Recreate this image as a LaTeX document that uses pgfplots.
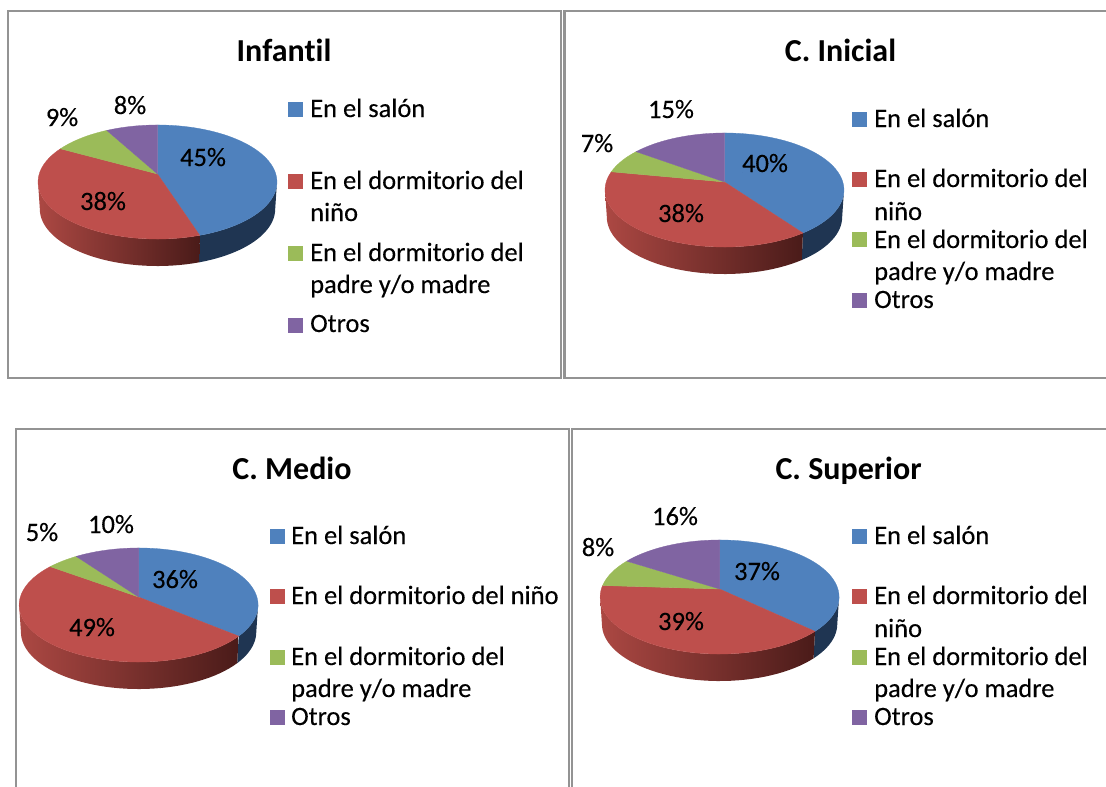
\documentclass[border=0pt]{standalone}
\usepackage{fontspec}
\usepackage{pgfplots}
\usepackage{pgfplotstable}
\pgfplotsset{compat=1.18}
\setmainfont{Carlito}[Ligatures=NoCommon,FakeBold=0.25,BoldFeatures={FakeBold=0}]

\definecolor{cblue}{HTML}{4F81BD}
\definecolor{cred}{HTML}{BE4F4C}
\definecolor{cgreen}{HTML}{9BBB59}
\definecolor{cpurple}{HTML}{8064A2}
\definecolor{wallblue}{HTML}{1F3552}
\definecolor{wallredL}{HTML}{AC4843}
\definecolor{wallredR}{HTML}{4A1B19}
\definecolor{framegray}{HTML}{939393}

\tikzset{
  txt/.style={inner sep=0pt,font=\fontsize{26.5}{26.5}\selectfont},
  ttl/.style={inner sep=0pt,anchor=base,font=\bfseries\fontsize{32}{32}\selectfont},
}

% share (%) of each slice, and where its label sits (pixels)
\pgfplotstableread{
cat value lx ly
salon 45 203 166
nino 38 103 210
padres 9 62 126
otros 8 130 114
}\infantil
\pgfplotstableread{
cat value lx ly
salon 40 765 172
nino 38 681 222
padres 7 597 152
otros 15 671 118
}\inicial
\pgfplotstableread{
cat value lx ly
salon 36 175 588
nino 49 92 636
padres 5 42 541
otros 10 111 533
}\medio
\pgfplotstableread{
cat value lx ly
salon 37 757 580
nino 39 681 630
padres 8 598 556
otros 16 675 525
}\superior

% perspective of the pie: half width, half depth, strength
\def\pieA{118.3}
\def\pieB{55.9}
\def\kk{0.1403}
\def\wall{27}

\newcommand\addarc[4]{% from angle, to angle, x scale, y shift
  \pgfmathtruncatemacro\nn{max(2,ceil(abs(#2-#1)/3))}
  \foreach \i in {0,...,\nn}{
    \pgfmathsetmacro\tht{#1+(#2-#1)*\i/\nn}
    \pgfmathsetmacro\uu{sin(\tht)}
    \pgfmathsetmacro\vv{-cos(\tht)}
    \pgfmathsetmacro\dd{1-\kk*\vv}
    \pgfmathsetmacro\px{\cx+#3*\pieA*\uu/\dd}
    \pgfmathsetmacro\py{\cy+#4+\pieB*\vv/\dd}
    \xdef\coords{\coords (\px,\py)}
  }
}
\newcommand\face[3]{%
  \xdef\coords{(\cx,\cy)}
  \addarc{#1}{#2}{1}{0}
  \edef\tmp{\noexpand\addplot[fill=#3,draw=#3,line width=0.3pt] coordinates {\coords} --cycle;}\tmp
}
\newcommand\wallpart[3]{%
  \xdef\coords{}
  \addarc{#1}{#2}{1}{0}
  \addarc{#2}{#1}{0.985}{\wall}
  \edef\tmp{\noexpand\addplot[#3,draw=none] coordinates {\coords} --cycle;}\tmp
}
\newcommand\pctlabel[2]{%
  \pgfplotstablegetelem{#2}{value}\of#1\edef\pv{\pgfplotsretval}
  \pgfplotstablegetelem{#2}{lx}\of#1\edef\lx{\pgfplotsretval}
  \pgfplotstablegetelem{#2}{ly}\of#1\edef\ly{\pgfplotsretval}
  \edef\tmp{\noexpand\node[txt,anchor=base] at (axis cs:\lx,\ly) {\pv\noexpand\%};}\tmp
}
\newcommand\pie[3]{% table, centre x, apex y
  \def\cx{#2}\def\cy{#3}
  \pgfplotstablegetelem{0}{value}\of#1\edef\va{\pgfplotsretval}
  \pgfplotstablegetelem{1}{value}\of#1\edef\vb{\pgfplotsretval}
  \pgfplotstablegetelem{2}{value}\of#1\edef\vc{\pgfplotsretval}
  \pgfmathsetmacro\ta{3.6*\va}
  \pgfmathsetmacro\tb{3.6*(\va+\vb)}
  \pgfmathsetmacro\tc{3.6*(\va+\vb+\vc)}
  \wallpart{98}{\ta}{fill=wallblue}
  \wallpart{\ta}{262}{left color=wallredL,right color=wallredR}
  \face{0}{\ta}{cblue}
  \face{\ta}{\tb}{cred}
  \face{\tb}{\tc}{cgreen}
  \face{\tc}{360}{cpurple}
  \pctlabel{#1}{0}\pctlabel{#1}{1}\pctlabel{#1}{2}\pctlabel{#1}{3}
}
\newcommand\swatch[3]{\fill[#3] (axis cs:#1,#2) rectangle +(15pt,15pt);}
\newcommand\ltext[3]{\node[txt,anchor=base west] at (axis cs:#1,#2) {#3};}

\begin{document}
\begin{tikzpicture}
\begin{axis}[
  scale only axis,
  width=1106pt,
  height=787pt,
  xmin=0, xmax=1106,
  ymin=0, ymax=787,
  y dir=reverse,
  hide axis,
]
% hidden axis: keep the whole page in the bounding box
\path (axis cs:0,0) rectangle (axis cs:1106,787);
% frames, the right and lower ones run off the page
\draw[framegray,line width=2.5pt] (axis cs:8,11) rectangle (axis cs:561,378);
\draw[framegray,line width=2.5pt] (axis cs:1106,11) -- (axis cs:564.5,11) -- (axis cs:564.5,378) -- (axis cs:1106,378);
\draw[framegray,line width=2pt] (axis cs:16,787) -- (axis cs:16,429) -- (axis cs:569,429) -- (axis cs:569,787);
\draw[framegray,line width=2.5pt] (axis cs:572,787) -- (axis cs:572,429) -- (axis cs:1106,429);

\pie{\infantil}{157.5}{174}
\pie{\inicial}{724.5}{182}
\pie{\medio}{138.6}{597}
\pie{\superior}{719.6}{589}

\node[ttl] at (axis cs:284,61) {Infantil};
\node[ttl] at (axis cs:840.5,61) {C. Inicial};
\node[ttl] at (axis cs:292,479) {C. Medio};
\node[ttl] at (axis cs:848.6,479) {C. Superior};

% legends
\swatch{288}{117}{cblue}\ltext{310}{117}{En el salón}
\swatch{288}{189}{cred}\ltext{310}{189}{En el dormitorio del}\ltext{310}{221}{niño}
\swatch{288}{261}{cgreen}\ltext{310}{261}{En el dormitorio del}\ltext{310}{293}{padre y/o madre}
\swatch{288}{333}{cpurple}\ltext{310}{332}{Otros}

\swatch{852}{127}{cblue}\ltext{874}{127}{En el salón}
\swatch{852}{187}{cred}\ltext{874}{187}{En el dormitorio del}\ltext{874}{220}{niño}
\swatch{852}{247}{cgreen}\ltext{874}{248}{En el dormitorio del}\ltext{874}{280}{padre y/o madre}
\swatch{852}{308}{cpurple}\ltext{874}{308}{Otros}

\swatch{270}{544}{cblue}\ltext{291}{544}{En el salón}
\swatch{270}{604}{cred}\ltext{291}{604}{En el dormitorio del niño}
\swatch{270}{665}{cgreen}\ltext{291}{665}{En el dormitorio del}\ltext{291}{697}{padre y/o madre}
\swatch{270}{725}{cpurple}\ltext{291}{725}{Otros}

\swatch{852}{544}{cblue}\ltext{874}{544}{En el salón}
\swatch{852}{604}{cred}\ltext{874}{604}{En el dormitorio del}\ltext{874}{637}{niño}
\swatch{852}{665}{cgreen}\ltext{874}{665}{En el dormitorio del}\ltext{874}{697}{padre y/o madre}
\swatch{852}{725}{cpurple}\ltext{874}{725}{Otros}
\end{axis}
\end{tikzpicture}
\end{document}
